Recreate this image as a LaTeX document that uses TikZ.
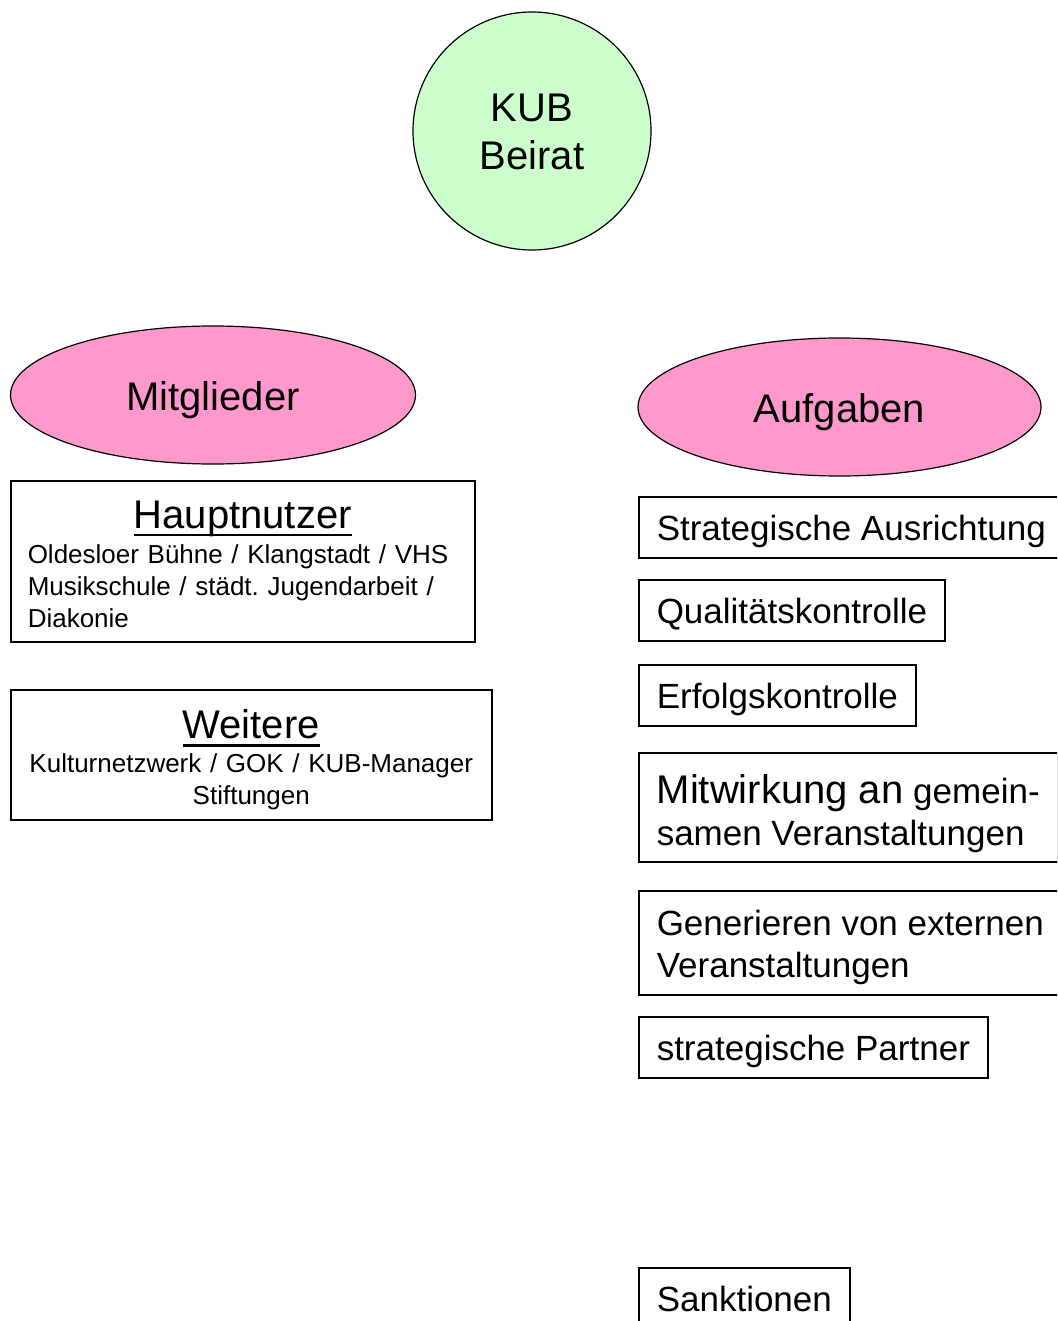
\documentclass[tikz,border=0pt]{standalone}
\usepackage{fontspec}
\setmainfont{Liberation Sans}
\frenchspacing
\usetikzlibrary{shapes.geometric}
\definecolor{beiratgruen}{RGB}{204,255,204}
\definecolor{gruppenrosa}{RGB}{255,153,204}
\newcommand{\unterstrich}[1]{\setbox0\hbox{#1}\rlap{\copy0}\rule[-8pt]{\wd0}{2.5pt}}
\newcommand{\oben}[1]{\rule{0pt}{#1}}
\tikzstyle{beirat} = [circle, draw=black, line width=1.2pt, fill=beiratgruen, minimum size=238pt, inner sep=0pt, align=center, font=\fontsize{40}{48}\selectfont]
\tikzstyle{gruppe} = [ellipse, draw=black, line width=1.2pt, fill=gruppenrosa, minimum width=405pt, minimum height=138pt, inner sep=0pt, text height=30pt, text depth=0pt, font=\fontsize{40}{48}\selectfont]
\tikzstyle{mitglied} = [rectangle, draw=black, line width=1.5pt, anchor=north west, inner xsep=17pt, inner ysep=0pt, font=\fontsize{26}{32}\selectfont]
\tikzstyle{aufgabe} = [rectangle, draw=black, line width=1.5pt, anchor=north west, inner xsep=18pt, inner ysep=0pt, align=left, font=\fontsize{35}{42}\selectfont]
\tikzstyle{einzeilig} = [minimum height=61pt, text height=30pt, text depth=4pt]

\begin{document}
\begin{tikzpicture}[x=1pt, y=1pt]
			\useasboundingbox (0,0) rectangle (1057,-1321);
			\clip (0,0) rectangle (1057,-1321);
			% Beirat
			\node[beirat] (kub) at (532,-131) {\oben{30pt}KUB\\Beirat};
			% Mitglieder
			\node[gruppe] (mitglieder) at (213,-395) {Mitglieder};
			\node[mitglied, text width=430pt, minimum height=161pt, align=left] (hauptnutzer) at (10,-480)
			{\makebox[\linewidth]{\oben{33pt}\fontsize{40}{48}\selectfont\unterstrich{Hauptnutzer}}\\[3pt]
			Oldesloer Bühne / Klangstadt / VHS\\
			Musikschule / städt. Jugendarbeit /\\
			Diakonie};
			\node[mitglied, inner xsep=14pt, text width=453pt, minimum height=130pt, align=center] (weitere) at (10,-689)
			{{\oben{39pt}\fontsize{40}{48}\selectfont\unterstrich{Weitere}}\\[2pt]
			Kulturnetzwerk / GOK / KUB-Manager\\
			Stiftungen};
			% Aufgaben
			\node[gruppe, minimum width=403pt] (aufgaben) at (839.5,-407) {Aufgaben};
			\node[aufgabe, einzeilig] (strategie) at (638,-496) {Strategische Ausrichtung};
			\node[aufgabe, einzeilig] (qualitaet) at (638,-579) {Qualitätskontrolle};
			\node[aufgabe, einzeilig] (erfolg) at (638,-664) {Erfolgskontrolle};
			\node[aufgabe, minimum height=109pt] (mitwirkung) at (638,-752)
			{\oben{41pt}{\fontsize{40}{48}\selectfont Mitwirkung an} gemein-\\samen Veranstaltungen};
			\node[aufgabe, minimum height=104pt] (generieren) at (638,-890)
			{\oben{35pt}Generieren von externen\\Veranstaltungen};
			\node[aufgabe, einzeilig] (partner) at (638,-1016) {strategische Partner};
			\node[aufgabe, einzeilig] (sanktionen) at (638,-1267) {Sanktionen};
\end{tikzpicture}
\end{document}
